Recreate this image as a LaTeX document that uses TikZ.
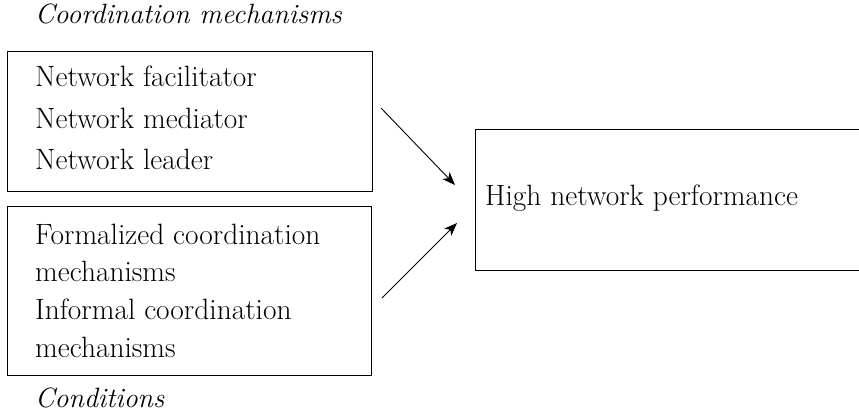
\documentclass[tikz,border=0pt]{standalone}
\usetikzlibrary{arrows.meta}
\begin{document}
\begin{tikzpicture}[x=1pt,y=-1pt,
  box/.style={draw, line width=0.9pt, rectangle, inner sep=0pt},
  lbl/.style={anchor=base west, inner sep=0pt, font=\fontsize{29.4}{34}\selectfont},
  head/.style={anchor=base west, inner sep=0pt, font=\fontsize{27.9}{33}\selectfont\itshape},
  conn/.style={line width=0.9pt, -{Stealth[length=13pt, width=10pt, inset=3.5pt]}}]
  \useasboundingbox (0,0) rectangle (859,419);

  % heading
  \node[head] (hcoord) at (35,24) {Coordination mechanisms};

  % actors box
  \node[box, minimum width=365pt, minimum height=140pt] (actors) at (189.5,121) {};
  \node[lbl] (fac) at (35,87) {Network facilitator};
  \node[lbl] (med) at (35,129) {Network mediator};
  \node[lbl] (lead) at (35,170) {Network leader};

  % mechanisms box
  \node[box, minimum width=364pt, minimum height=169pt] (mech) at (189,290.5) {};
  \node[lbl] (form1) at (35,245) {Formalized coordination};
  \node[lbl] (form2) at (35,282) {mechanisms};
  \node[lbl] (inf1) at (35,320) {Informal coordination};
  \node[lbl] (inf2) at (35,357) {mechanisms};

  \node[head] (hcond) at (35,407) {Conditions};

  % outcome box
  \node[box, minimum width=387pt, minimum height=141pt] (perf) at (668.5,199.5) {};
  \node[lbl] (perftxt) at (485,206) {High network performance};

  % connectors
  \coordinate (a1s) at (381,108);
  \coordinate (a1e) at (455,185);
  \coordinate (a2s) at (382,298);
  \coordinate (a2e) at (457,223);
  \draw[conn] (a1s) -- (a1e);
  \draw[conn] (a2s) -- (a2e);
\end{tikzpicture}
\end{document}
